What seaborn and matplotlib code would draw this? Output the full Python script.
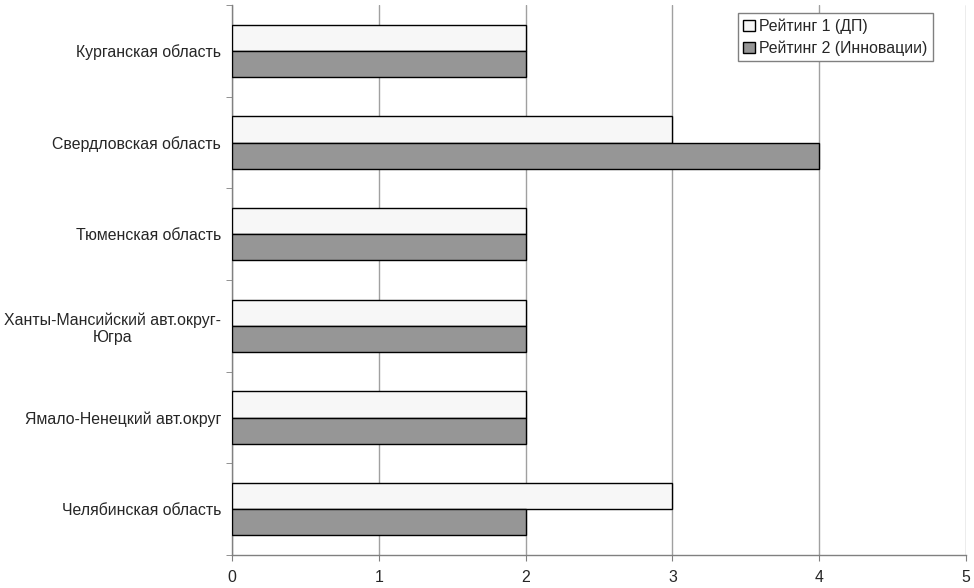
import matplotlib
matplotlib.use("Agg")
import matplotlib.pyplot as plt
import seaborn as sns
import pandas as pd
import numpy as np
from matplotlib.ticker import FixedLocator

regions = ["Курганская область", "Свердловская область", "Тюменская область",
           "Ханты-Мансийский авт.округ-\nЮгра", "Ямало-Ненецкий авт.округ",
           "Челябинская область"]
series_names = ["Рейтинг 1 (ДП)", "Рейтинг 2 (Инновации)"]
rating1 = [2, 3, 2, 2, 2, 3]
rating2 = [2, 4, 2, 2, 2, 2]
x_ticks = [0, 1, 2, 3, 4, 5]

df = pd.DataFrame({
    "region": regions * 2,
    "value": rating1 + rating2,
    "series": [series_names[0]] * len(regions) + [series_names[1]] * len(regions),
})

sns.set_style("white")
plt.rcParams["font.family"] = ["Liberation Sans", "DejaVu Sans"]

FS = 11.4

fig = plt.figure(figsize=(9.74, 5.88), dpi=100)
ax = fig.add_axes([232 / 974, 1 - 555 / 588, (966 - 232) / 974, (555 - 5) / 588])

sns.barplot(data=df, y="region", x="value", hue="series", orient="h",
            palette=["#f7f7f7", "#969696"], edgecolor="black", linewidth=1,
            width=0.57, ax=ax, zorder=3, legend=True)

ax.set_xlim(0, 5)
ax.set_ylim(len(regions) - 0.5, -0.5)
ax.set_xticks(x_ticks)
ax.set_xticklabels([str(t) for t in x_ticks], fontsize=FS)
ax.xaxis.grid(True, color="#a0a0a0", linewidth=1, zorder=0)
ax.yaxis.grid(False)
ax.set_axisbelow(True)
ax.set_xlabel("")
ax.set_ylabel("")

for s in ["top", "right"]:
    ax.spines[s].set_visible(False)
for s in ["left", "bottom"]:
    ax.spines[s].set_color("#808080")
    ax.spines[s].set_linewidth(1)

ax.tick_params(axis="y", which="major", length=0, pad=8, labelsize=FS)
ax.yaxis.set_minor_locator(FixedLocator(np.arange(-0.5, len(regions), 1.0)))
ax.tick_params(axis="y", which="minor", length=4, color="#808080", direction="out", left=True)
ax.tick_params(axis="x", which="major", length=4, color="#808080", direction="out", bottom=True, pad=7)
for lbl in ax.get_yticklabels():
    lbl.set_multialignment("center")

leg = ax.legend(loc="upper right", bbox_to_anchor=(933 / 974, 1 - 13 / 588),
                bbox_transform=fig.transFigure, fontsize=FS, frameon=True,
                fancybox=False, edgecolor="#808080", framealpha=1,
                handlelength=0.75, handleheight=0.75, handletextpad=0.25,
                borderpad=0.35, labelspacing=0.4, borderaxespad=0)
leg.get_frame().set_linewidth(1)

fig.savefig("out.png", dpi=100)
